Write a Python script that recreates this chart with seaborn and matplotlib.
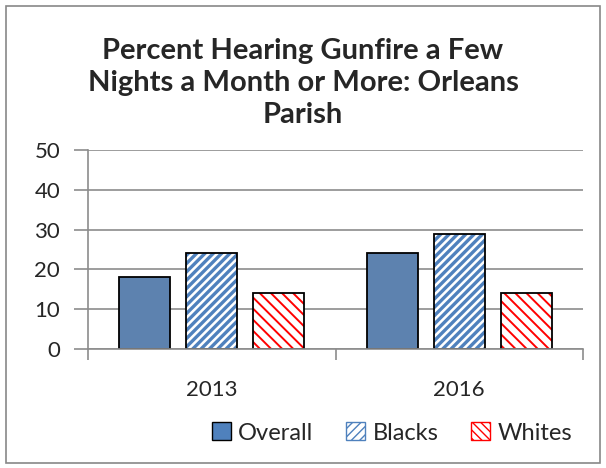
import matplotlib.pyplot as plt
import matplotlib.patches as mpatches
import seaborn as sns
import pandas as pd

# data
years = ['2013', '2016']
groups = ['Overall', 'Blacks', 'Whites']
overall = [18, 24]
blacks = [24, 29]
whites = [14, 14]

df = pd.DataFrame({
    'year': years * 3,
    'group': [g for g in groups for _ in years],
    'pct': overall + blacks + whites,
})

sns.set_style('white')
plt.rcParams['font.family'] = ['Lato', 'DejaVu Sans']

fig = plt.figure(figsize=(6.06, 4.68), dpi=100)
ax = fig.add_axes([88 / 606, 1 - 349 / 468, (583 - 88) / 606, (349 - 150) / 468])

blue = '#4F81BD'
sns.barplot(data=df, x='year', y='pct', hue='group', order=years, hue_order=groups,
            palette=[blue, 'white', 'white'], width=0.81, gap=0.235,
            edgecolor='black', linewidth=1.3, ax=ax, legend=False)

# hatch colour follows edgecolor, so the black outline is redrawn on top
styles = {'Blacks': ('////', blue, 2.4), 'Whites': ('\\\\\\', 'red', 1.4)}
for cont, g in zip(ax.containers, groups):
    if g not in styles:
        continue
    hatch, col, hlw = styles[g]
    for bar in cont:
        bar.set_hatch(hatch)
        bar.set_edgecolor(col)
        bar.set_linewidth(0)
        if hasattr(bar, 'set_hatch_linewidth'):
            bar.set_hatch_linewidth(hlw)
        ax.add_patch(mpatches.Rectangle(bar.get_xy(), bar.get_width(), bar.get_height(),
                                        facecolor='none', edgecolor='black', linewidth=1.3,
                                        zorder=bar.get_zorder() + 0.1))

ax.set_ylim(0, 50)
ax.set_xlim(-0.5, 1.5)
ax.set_yticks(range(0, 51, 10))
ax.yaxis.grid(True, color='#8c8c8c', linewidth=1.2)
ax.set_axisbelow(True)
for s in ['top', 'right']:
    ax.spines[s].set_visible(False)
for s in ['left', 'bottom']:
    ax.spines[s].set_color('#8c8c8c')
    ax.spines[s].set_linewidth(1.2)
ax.tick_params(axis='y', length=10, width=1.2, color='#8c8c8c', left=True, labelsize=16, pad=10)
ax.tick_params(axis='x', which='major', length=0, labelsize=16, pad=22)
ax.set_xticks([-0.5, 0.5, 1.5], minor=True)
ax.tick_params(axis='x', which='minor', length=8, width=1.2, color='#8c8c8c', bottom=True)
ax.set_xlabel('')
ax.set_ylabel('')

fig.text(0.5, 1 - 83 / 468, 'Percent Hearing Gunfire a Few\nNights a Month or More: Orleans\nParish',
         ha='center', va='center', fontsize=21, fontweight='bold', linespacing=1.3)

handles = [
    mpatches.Patch(facecolor=blue, edgecolor='black', label='Overall'),
    mpatches.Patch(facecolor='white', edgecolor=blue, hatch='////', label='Blacks'),
    mpatches.Patch(facecolor='white', edgecolor='red', hatch='\\\\\\\\', label='Whites'),
]
fig.legend(handles=handles, loc='center', bbox_to_anchor=(0.647, 1 - 433 / 468), ncol=3,
           frameon=False, fontsize=17, handlelength=0.8, handleheight=0.8,
           handletextpad=0.3, columnspacing=1.4)

fig.patches.append(mpatches.Rectangle((6 / 606, 5 / 468), 594 / 606, 457 / 468,
                                      transform=fig.transFigure, fill=False,
                                      edgecolor='#888888', linewidth=1.2))

fig.savefig('out.png', dpi=100)
